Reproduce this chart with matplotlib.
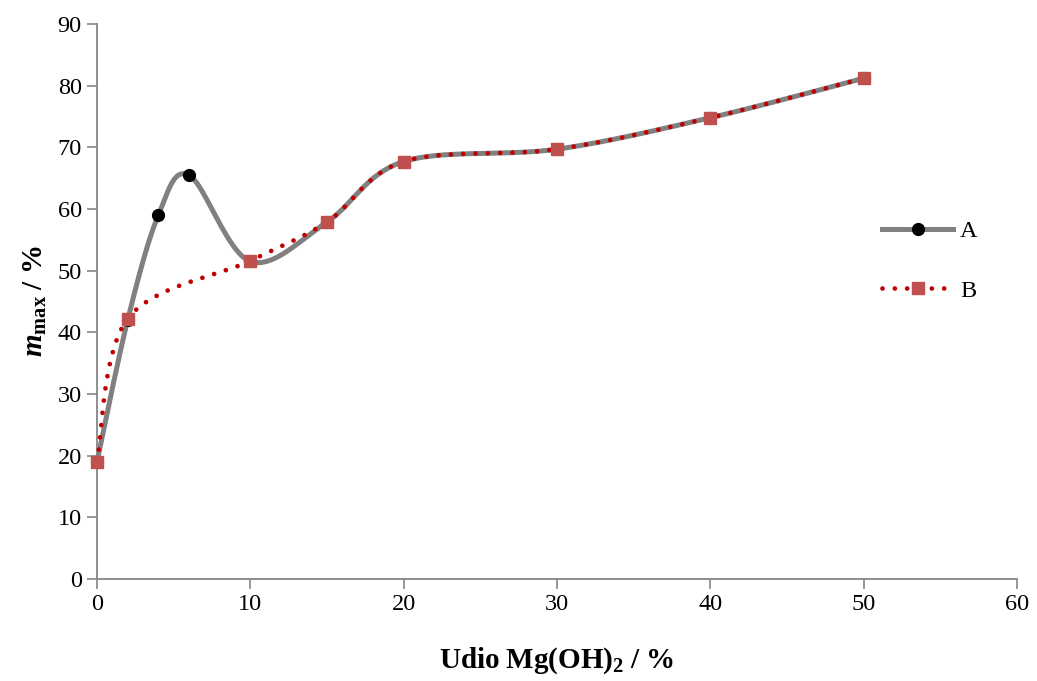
import numpy as np
import matplotlib
matplotlib.use("Agg")
import matplotlib.pyplot as plt
from matplotlib.lines import Line2D

plt.rcParams['font.family'] = ['Liberation Serif', 'DejaVu Serif']
plt.rcParams['mathtext.fontset'] = 'custom'
plt.rcParams['mathtext.rm'] = 'Liberation Serif'
plt.rcParams['mathtext.it'] = 'Liberation Serif:italic'
plt.rcParams['mathtext.bf'] = 'Liberation Serif:bold'
plt.rcParams['mathtext.bfit'] = 'Liberation Serif:bold:italic'

# Data
x_a = [0, 2, 4, 6, 10, 15, 20, 30, 40, 50]
y_a = [19.0, 42.0, 59.0, 65.5, 51.5, 57.9, 67.7, 69.7, 74.8, 81.2]
x_b = [0, 2, 10, 15, 20, 30, 40, 50]
y_b = [19.0, 42.2, 51.6, 57.9, 67.7, 69.7, 74.8, 81.2]
x_ticks = [0, 10, 20, 30, 40, 50, 60]
y_ticks = [0, 10, 20, 30, 40, 50, 60, 70, 80, 90]


def smooth(xs, ys, n=40):
    """Excel-like smoothed line (Catmull-Rom Bezier) through the given points."""
    P = np.column_stack([xs, ys]).astype(float)
    out = []
    m = len(P)
    for i in range(m - 1):
        p0 = P[i - 1] if i > 0 else P[i]
        p1 = P[i]
        p2 = P[i + 1]
        p3 = P[i + 2] if i + 2 < m else P[i + 1]
        c1 = p1 + (p2 - p0) / 6.0
        c2 = p2 - (p3 - p1) / 6.0
        t = np.linspace(0, 1, n)[:, None]
        seg = ((1 - t) ** 3) * p1 + 3 * ((1 - t) ** 2) * t * c1 + 3 * (1 - t) * t ** 2 * c2 + t ** 3 * p2
        out.append(seg if i == 0 else seg[1:])
    s = np.vstack(out)
    return s[:, 0], s[:, 1]


fig = plt.figure(figsize=(10.37, 6.81), dpi=100)
ax = fig.add_axes([97 / 1037, 1 - 579 / 681, (1017 - 97) / 1037, (579 - 24) / 681])

gray = '#808080'
red = '#C00000'
sq = '#C0504D'
axcol = '#868686'
dots = (0, (0.01, 2.6))

sxa, sya = smooth(x_a, y_a)
ax.plot(sxa, sya, color=gray, lw=3.6, solid_capstyle='round', zorder=2, clip_on=False)
ax.plot(x_a, y_a, ls='none', marker='o', ms=8.5, color='black', zorder=3, clip_on=False)

sxb, syb = smooth(x_b, y_b)
ax.plot(sxb, syb, color=red, lw=3.4, ls=dots, dash_capstyle='round', zorder=4, clip_on=False)
ax.plot(x_b, y_b, ls='none', marker='s', ms=8.5, color=sq, zorder=5, clip_on=False)

ax.set_xlim(0, 60)
ax.set_ylim(0, 90)
ax.set_xticks(x_ticks)
ax.set_yticks(y_ticks)
ax.tick_params(axis='both', which='major', labelsize=17.5, color=axcol, length=7,
               width=1.2, direction='out', pad=4)
for s in ['top', 'right']:
    ax.spines[s].set_visible(False)
for s in ['left', 'bottom']:
    ax.spines[s].set_color(axcol)
    ax.spines[s].set_linewidth(1.3)

ax.set_xlabel(r'$\mathbf{Udio\ Mg(OH)_2\ /\ \%}$', fontsize=21, labelpad=22)
ax.set_ylabel(r'$\mathbfit{m}_{\mathbf{max}}\ \mathbf{/\ \%}$', fontsize=21, labelpad=6)

h_a = Line2D([], [], color=gray, lw=3.6, marker='o', ms=8.5, mfc='black', mec='black')
h_b = Line2D([], [], color=red, lw=3.4, ls=dots, dash_capstyle='round',
             marker='s', ms=8.5, mfc=sq, mec=sq)
leg = ax.legend([h_a, h_b], ['A', 'B'], loc='center left', bbox_to_anchor=(0.83, 0.573),
                frameon=False, fontsize=17.5, handlelength=2.9, labelspacing=1.55,
                handletextpad=0.3)

fig.savefig('out.png', dpi=100)
